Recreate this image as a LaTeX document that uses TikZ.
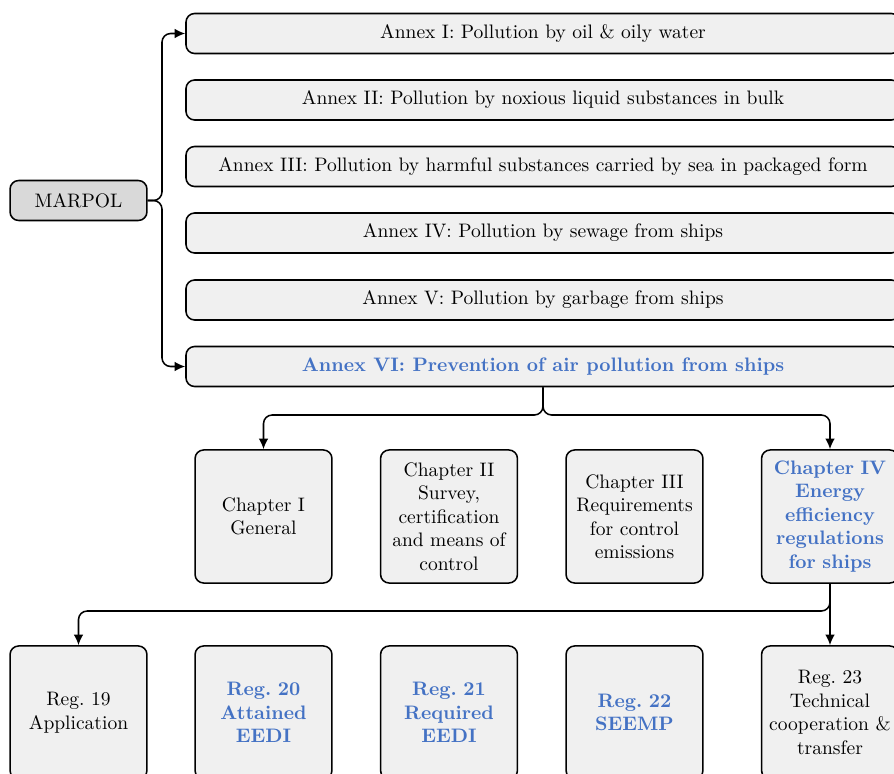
\documentclass[tikz,border=0pt]{standalone}
\usetikzlibrary{arrows.meta}
\definecolor{hl}{RGB}{68,114,196}
\definecolor{boxfill}{RGB}{240,240,240}
\definecolor{rootfill}{RGB}{217,217,217}
\frenchspacing
\begin{document}
\begin{tikzpicture}[x=0.52pt,y=-0.52pt,
  base/.style={draw=black,line width=0.8pt,rounded corners=4.5pt,fill=boxfill,font=\fontsize{10.15}{12.2}\selectfont},
  rootbox/.style={base,fill=rootfill,minimum width=71.2pt,minimum height=20.8pt,inner sep=0pt},
  annexbox/.style={base,minimum width=371.3pt,minimum height=20.8pt,inner sep=0pt},
  tallbox/.style={base,minimum height=69.2pt,text width=67.2pt,inner xsep=2pt,align=center},
  hltext/.style={text=hl,font=\fontsize{10.15}{12.2}\selectfont\bfseries},
  conn/.style={line width=0.8pt,rounded corners=4.5pt,-{Latex[length=5.5pt,width=5pt]}}
]
\useasboundingbox (0,0) rectangle (894,774);
\node[rootbox] (marpol) at (78.5,200.5) {MARPOL};
\node[annexbox] (a1) at (543,33.5) {Annex I: Pollution by oil \& oily water};
\node[annexbox] (a2) at (543,100) {Annex II: Pollution by noxious liquid substances in bulk};
\node[annexbox] (a3) at (543,166.5) {Annex III: Pollution by harmful substances carried by sea in packaged form};
\node[annexbox] (a4) at (543,233) {Annex IV: Pollution by sewage from ships};
\node[annexbox] (a5) at (543,300) {Annex V: Pollution by garbage from ships};
\node[annexbox,hltext] (a6) at (543,366.5) {Annex VI: Prevention of air pollution from ships};

\node[tallbox] (c1) at (263.5,516.5) {Chapter I\\General};
\node[tallbox] (c2) at (449,516.5) {Chapter II\\Survey,\\certification\\and means of\\control};
\node[tallbox] (c3) at (634.5,516.5) {Chapter III\\Requirements\\for control\\emissions};
\node[tallbox,hltext] (c4) at (830,516.5) {Chapter IV\\Energy\\efficiency\\regulations\\for ships};

\node[tallbox] (r19) at (78.5,712.5) {Reg. 19\\Application};
\node[tallbox,hltext] (r20) at (263.5,712.5) {Reg. 20\\Attained\\EEDI};
\node[tallbox,hltext] (r21) at (449,712.5) {Reg. 21\\Required\\EEDI};
\node[tallbox,hltext] (r22) at (634.5,712.5) {Reg. 22\\SEEMP};
\node[tallbox] (r23) at (830,712.5) {Reg. 23\\Technical\\cooperation \&\\transfer};

\coordinate (mj) at (162,200.5);
\draw[conn] (marpol.east) -- (mj) |- (a1.west);
\draw[conn] (marpol.east) -- (mj) |- (a6.west);
\coordinate (aj) at (543,415);
\draw[conn] (a6.south) -- (aj) -| (c1.north);
\draw[conn] (a6.south) -- (aj) -| (c4.north);
\coordinate (cj) at (830,611);
\draw[conn] (c4.south) -- (cj) -| (r19.north);
\draw[conn] (c4.south) -- (r23.north);
\end{tikzpicture}
\end{document}
